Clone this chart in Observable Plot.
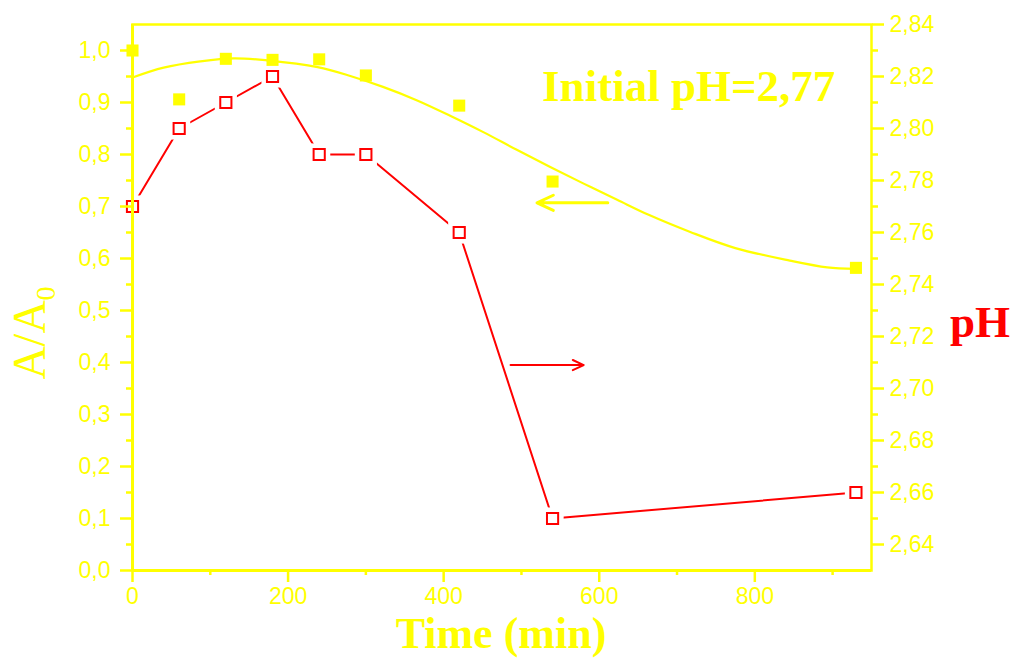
<!DOCTYPE html>
<html><head><meta charset="utf-8">
<script src="https://cdn.jsdelivr.net/npm/d3@7"></script>
<script src="https://cdn.jsdelivr.net/npm/@observablehq/plot@0.6"></script>
<style>body{margin:0;background:#fff} svg{display:block}</style>
</head><body><div id="chart"></div>
<script>
// measured data
const time = [0, 60, 120, 180, 240, 300, 420, 540, 930];
const absRatio = [1.0, 0.906, 0.984, 0.982, 0.983, 0.952, 0.894, 0.748, 0.582];
const phValues = [2.77, 2.80, 2.81, 2.82, 2.79, 2.79, 2.76, 2.65, 2.66];
// fitted curve for A/A0
const fitTime = [0, 40, 87, 130, 173, 238, 280, 322, 366, 409, 451, 494, 537, 580, 623, 665, 717, 775, 845, 893, 929];
const fitAbs = [0.948, 0.967, 0.979, 0.985, 0.981, 0.968, 0.951, 0.930, 0.904, 0.874, 0.843, 0.809, 0.776, 0.744, 0.713, 0.683, 0.651, 0.620, 0.596, 0.583, 0.580];
// ticks
const xTicks = [0, 200, 400, 600, 800];
const xMinor = [100, 300, 500, 700, 900];
const leftTicks = [0, 0.1, 0.2, 0.3, 0.4, 0.5, 0.6, 0.7, 0.8, 0.9, 1.0];
const leftMinor = [0.05, 0.15, 0.25, 0.35, 0.45, 0.55, 0.65, 0.75, 0.85, 0.95];
const phTicks = [2.64, 2.66, 2.68, 2.70, 2.72, 2.74, 2.76, 2.78, 2.80, 2.82, 2.84];
const phMinor = [2.65, 2.67, 2.69, 2.71, 2.73, 2.75, 2.77, 2.79, 2.81, 2.83];
// annotation labels
const noteText = "Initial pH=2,77";
const xTitle = "Time (min)";
const rightTitle = "pH";

const Y = "#ffff00", R = "#ff0000";
const PH_MIN = 2.63, PH_MAX = 2.84, LEFT_MAX = 1.05;
const toLeft = p => (p - PH_MIN) / (PH_MAX - PH_MIN) * LEFT_MAX;
const fromLeft = v => PH_MIN + v / LEFT_MAX * (PH_MAX - PH_MIN);

const pts = time.map((t, i) => ({t, a: absRatio[i], ph: phValues[i]}));
const fit = fitTime.map((t, i) => ({t, a: fitAbs[i]}));

const comma = (d, n) => d.toFixed(n).replace(".", ",");
const axisFont = {fontSize: 23, color: Y, strokeWidth: 2.5};

const chart = Plot.plot({
  width: 1018, height: 659,
  marginLeft: 132, marginRight: 147, marginTop: 24, marginBottom: 89,
  style: {fontFamily: "'Liberation Sans', Arial, sans-serif", background: "white"},
  x: {domain: [0, 950]},
  y: {domain: [0, LEFT_MAX]},
  marks: [
    Plot.line(fit, {x: "t", y: "a", stroke: Y, strokeWidth: 2.2, curve: "catmull-rom"}),
    Plot.line(pts, {x: "t", y: d => toLeft(d.ph), stroke: R, strokeWidth: 2}),
    Plot.dot(pts, {x: "t", y: d => toLeft(d.ph), symbol: "square", r: 12.5, fill: "white"}),
    Plot.dot(pts, {x: "t", y: d => toLeft(d.ph), symbol: "square", r: 6.3, fill: "white", stroke: R, strokeWidth: 2}),
    Plot.dot(pts, {x: "t", y: "a", symbol: "square", r: 6.8, fill: Y}),
    Plot.arrow([{x1: 611, x2: 520, y: 0.707}], {x1: "x1", x2: "x2", y1: "y", y2: "y", stroke: Y, strokeWidth: 3, headLength: 9, headAngle: 50}),
    Plot.arrow([{x1: 486, x2: 580, p: 2.709}], {x1: "x1", x2: "x2", y1: d => toLeft(d.p), y2: d => toLeft(d.p), stroke: R, strokeWidth: 2, headLength: 9, headAngle: 50}),
    Plot.text([noteText], {x: 715, y: 0.931, text: d => d, fill: Y, fontSize: 45, fontWeight: "bold", fontFamily: "'Liberation Serif', 'Times New Roman', serif", textAnchor: "middle", lineAnchor: "middle"}),
    Plot.frame({stroke: Y, strokeWidth: 2.5}),
    Plot.ruleX([0], {stroke: Y, strokeWidth: 3}),
    Plot.ruleY([0], {stroke: Y, strokeWidth: 3}),
    Plot.axisX(xTicks, {anchor: "bottom", tickSize: 12, tickPadding: 5, label: null, tickFormat: d => String(d), ...axisFont}),
    Plot.axisX(xMinor, {anchor: "bottom", tickSize: 5, label: null, tickFormat: () => "", ...axisFont}),
    Plot.axisY(leftTicks, {anchor: "left", tickSize: 12, tickPadding: 10, label: null, tickFormat: d => comma(d, 1), ...axisFont}),
    Plot.axisY(leftMinor, {anchor: "left", tickSize: 6, label: null, tickFormat: () => "", ...axisFont}),
    Plot.axisY(phTicks.map(toLeft), {anchor: "right", tickSize: 12, tickPadding: 6, label: null, tickFormat: d => comma(fromLeft(d), 2), ...axisFont}),
    Plot.axisY(phMinor.map(toLeft), {anchor: "right", tickSize: 6, label: null, tickFormat: () => "", ...axisFont})
  ]
});
document.getElementById("chart").append(chart);

// axis titles
const svg = d3.select(chart);
const serif = "'Liberation Serif', 'Times New Roman', serif";
svg.append("text").attr("x", 501).attr("y", 648).attr("text-anchor", "middle")
  .attr("font-family", serif).attr("font-weight", "bold").attr("font-size", 44).attr("fill", Y).text(xTitle);
svg.append("text").attr("x", 980).attr("y", 337).attr("text-anchor", "middle")
  .attr("font-family", serif).attr("font-weight", "bold").attr("font-size", 45).attr("fill", R).text(rightTitle);
const yl = svg.append("text").attr("transform", "translate(45,333) rotate(-90)").attr("text-anchor", "middle")
  .attr("font-family", serif).attr("font-size", 46).attr("fill", Y);
yl.append("tspan").text("A/A");
yl.append("tspan").attr("dy", 10).attr("font-size", 28).text("0");
</script>
</body></html>
